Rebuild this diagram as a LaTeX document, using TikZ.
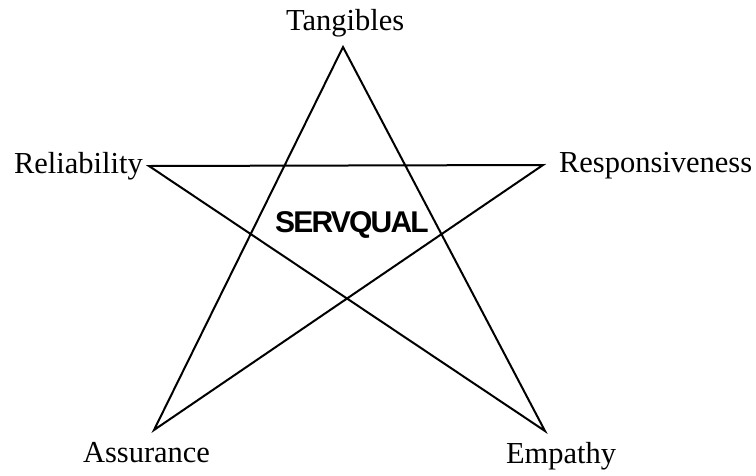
\documentclass[tikz,border=0pt]{standalone}
\usepackage{fontspec}
\setmainfont{Liberation Serif}
\newfontfamily\servfont[LetterSpace=-6]{Liberation Sans}
\usetikzlibrary{positioning}

\begin{document}
\begin{tikzpicture}[x=1pt, y=-1pt, line width=2pt,
    dim/.style={font=\fontsize{30.5}{33}\selectfont, inner sep=0pt, anchor=base west},
    core/.style={font=\servfont\bfseries\fontsize{30}{33}\selectfont, inner sep=0pt}]
    \useasboundingbox (0,0) rectangle (756,475);
    \coordinate (top) at (343,47);
    \coordinate (lft) at (149,166);
    \coordinate (rgt) at (543,165);
    \coordinate (bl) at (154,430);
    \coordinate (br) at (545,431);
        \draw[line join=miter] (top) -- (bl) -- (rgt) -- (lft) -- (br) -- cycle;
    \node[dim] (tang) at (285,30) {Tangibles};
    \node[dim] (reli) at (13,173) {Reliability};
    \node[dim] (resp) at (558,172) {Responsiveness};
    \node[dim] (assu) at (82,462) {Assurance};
    \node[dim] (empa) at (505,463) {Empathy};
    \node[core] (serv) at (352,225) {SERVQUAL};
\end{tikzpicture}
\end{document}
